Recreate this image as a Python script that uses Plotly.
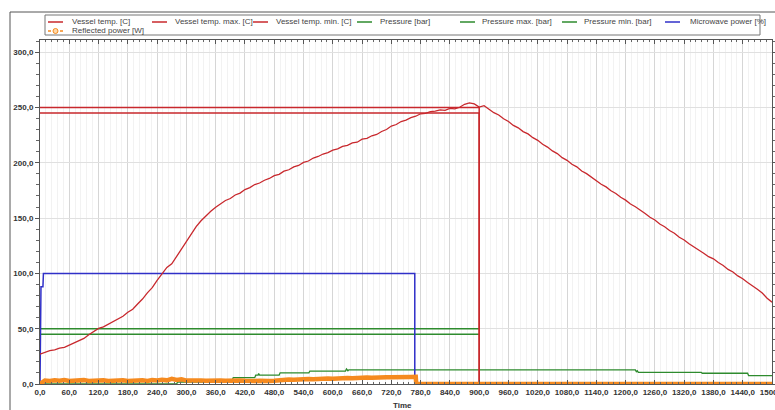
import plotly.graph_objects as go

# ---------------- data ----------------
time_step = 10
temp_t = list(range(0, 1501, time_step))
vessel_temp = [
    27.0, 28.8, 30.2, 30.9, 32.4, 33.1, 35.2, 36.8, 39.4, 41.2,
    44.6, 47.8, 50.3, 51.6, 54.2, 56.1, 59.3, 61.2, 64.8, 67.6,
    72.3, 76.8, 82.4, 87.1, 93.6, 99.2, 105.4, 108.6, 115.3, 121.7,
    129.4, 135.8, 142.2, 147.6, 152.3, 156.2, 159.8, 162.6, 165.9, 167.7,
    170.9, 172.6, 175.8, 177.6, 180.3, 181.7, 184.2, 185.8, 188.3, 189.6,
    192.4, 193.7, 196.3, 197.6, 200.4, 201.6, 204.3, 205.7, 207.9, 209.2,
    211.4, 212.6, 214.8, 215.7, 217.9, 218.6, 221.3, 222.1, 224.4, 225.6,
    228.3, 230.1, 233.2, 234.6, 237.3, 238.5, 240.8, 242.1, 244.3, 244.7,
    246.2, 246.6, 247.8, 247.4, 249.1, 248.8, 250.2, 252.9, 254.1, 253.2,
    250.3, 251.6, 248.1, 245.3, 243.2, 239.8, 237.3, 233.8, 231.6, 228.2,
    226.1, 222.7, 220.3, 216.8, 214.2, 210.7, 208.3, 204.6, 202.2, 198.7,
    196.3, 192.6, 190.2, 186.8, 184.1, 180.6, 178.2, 174.7, 172.3, 168.8,
    166.2, 162.7, 160.3, 156.8, 154.1, 150.7, 148.3, 144.6, 142.2, 138.8,
    136.3, 132.6, 130.2, 126.8, 124.1, 120.7, 118.2, 115.1, 113.2, 109.8,
    107.2, 103.6, 101.3, 97.7, 95.2, 91.8, 89.1, 85.7, 82.3, 77.6,
    74.0,
]

limit_t = [0, 900, 900, 1500]
temp_max = [250, 250, 0, 0]
temp_min = [245, 245, 0, 0]

plim_t = [0, 900, None, 900, 1500]
pressure_max = [50, 50, None, 0, 0]
pressure_min = [45, 45, None, 0, 0]

pressure_t = [0, 280, 282, 340, 342, 394, 396, 440, 442, 447, 448, 450, 490, 492,
              551, 553, 626, 628, 631, 633, 1220, 1222, 1224, 1226, 1355, 1357,
              1450, 1452, 1500]
pressure = [0, 0, 1.8, 1.8, 3.6, 3.6, 5.7, 5.7, 8.0, 8.0, 9.5, 8.0, 8.0, 10.1,
            10.1, 11.7, 11.7, 13.6, 12.0, 12.8, 12.8, 11.2, 12.0, 10.6, 10.6, 9.7,
            9.7, 7.6, 7.6]

mw_t = [0, 2, 6, 7, 768, 768, 1500]
microwave = [0, 88, 88, 100, 100, 0, 0]

refl_t = list(range(0, 771, time_step)) + [771, 1500]
reflected = [
    0, 3.2, 2.8, 3.4, 2.9, 3.6, 2.8, 3.3, 3.0, 3.5,
    2.8, 3.2, 2.9, 3.4, 2.8, 3.2, 3.0, 3.4, 2.8, 3.2,
    3.0, 3.3, 2.8, 3.5, 3.1, 3.8, 3.3, 4.6, 3.6, 4.2,
    3.1, 3.4, 2.8, 3.2, 3.0, 3.3, 2.8, 3.2, 3.0, 3.3,
    2.8, 3.2, 2.9, 3.3, 2.7, 3.0, 2.4, 2.8, 2.9, 3.6,
    3.5, 4.0, 3.8, 4.3, 4.1, 4.5, 4.3, 4.8, 4.5, 4.9,
    4.8, 5.2, 5.0, 5.4, 5.2, 5.6, 5.4, 5.8, 5.6, 6.0,
    5.8, 6.2, 6.0, 6.3, 6.1, 6.5, 6.3, 6.4,
    0, 0,
]

x_ticks = list(range(0, 1501, 60))
x_labels = [f"{v},0" for v in x_ticks]
y_ticks = list(range(0, 301, 50))
y_labels = [f"{v},0" for v in y_ticks]

legend_names = ["Vessel temp. [C]", "Vessel temp. max. [C]", "Vessel temp. min. [C]",
                "Pressure [bar]", "Pressure max. [bar]", "Pressure min. [bar]",
                "Microwave power [%]", "Reflected power [W]"]

RED = "#c8282d"
GREEN = "#2e8b2e"
BLUE = "#3030c8"
ORANGE = "#f58a1f"
legend_colors = [RED, RED, RED, GREEN, GREEN, GREEN, BLUE, ORANGE]

# ---------------- layout geometry ----------------
W, H = 775, 410
L, R, T, B = 40, 3, 40, 26
PW, PH = W - L - R, H - T - B


def px(xp):
    return (xp - L) / PW


def py(yp):
    return (H - B - yp) / PH


fig = go.Figure()

# pressure family
fig.add_trace(go.Scatter(x=pressure_t, y=pressure, mode="lines",
                         line=dict(color=GREEN, width=1.3), name=legend_names[3]))
fig.add_trace(go.Scatter(x=plim_t, y=pressure_max, mode="lines",
                         line=dict(color=GREEN, width=1.5), name=legend_names[4]))
fig.add_trace(go.Scatter(x=plim_t, y=pressure_min, mode="lines",
                         line=dict(color=GREEN, width=1.5), name=legend_names[5]))
# microwave power
fig.add_trace(go.Scatter(x=mw_t, y=microwave, mode="lines",
                         line=dict(color=BLUE, width=1.5), name=legend_names[6]))
# temperature family
fig.add_trace(go.Scatter(x=limit_t, y=temp_max, mode="lines",
                         line=dict(color=RED, width=1.5), name=legend_names[1]))
fig.add_trace(go.Scatter(x=limit_t, y=temp_min, mode="lines",
                         line=dict(color=RED, width=1.5), name=legend_names[2]))
fig.add_trace(go.Scatter(x=temp_t, y=vessel_temp, mode="lines",
                         line=dict(color=RED, width=1.3), name=legend_names[0]))
# reflected power
fig.add_trace(go.Scatter(x=refl_t, y=reflected, mode="lines",
                         line=dict(color=ORANGE, width=4.5), name=legend_names[7]))

tickfont = dict(family="Liberation Sans", size=8, color="#333333", weight="bold")

fig.update_layout(
    width=W, height=H,
    margin=dict(l=L, r=R, t=T, b=B, pad=0, autoexpand=False),
    paper_bgcolor="white", plot_bgcolor="white",
    showlegend=False,
    xaxis=dict(range=[0, 1500], tickmode="array", tickvals=x_ticks, ticktext=x_labels,
               ticks="inside", ticklen=4, tickcolor="#555", tickwidth=1,
               showline=True, linecolor="#555", linewidth=1, mirror="ticks",
               showgrid=True, gridcolor="#d6d6d6", gridwidth=1, zeroline=False,
               tickfont=tickfont, ticklabeloverflow="allow", automargin=False,
               minor=dict(dtick=12, ticks="inside", ticklen=2, tickcolor="#666",
                          showgrid=True, gridcolor="#f2f2f2")),
    yaxis=dict(range=[0, 311], tickmode="array", tickvals=y_ticks, ticktext=y_labels,
               ticks="outside", ticklen=4, tickcolor="#555", tickwidth=1,
               showline=True, linecolor="#555", linewidth=1, mirror="ticks",
               showgrid=True, gridcolor="#e0e0e0", zeroline=False,
               tickfont=tickfont, automargin=False,
               minor=dict(dtick=10, ticks="outside", ticklen=3, tickcolor="#666",
                          showgrid=False)),
)

shapes = []
annotations = []
# outer frame (top and left borders of the chart panel)
shapes.append(dict(type="line", xref="paper", yref="paper", x0=px(10), x1=px(776),
                   y0=py(12), y1=py(12), line=dict(color="#555", width=1)))
shapes.append(dict(type="line", xref="paper", yref="paper", x0=px(10), x1=px(10),
                   y0=py(12), y1=py(412), line=dict(color="#555", width=1)))
# legend box
shapes.append(dict(type="rect", xref="paper", yref="paper", x0=px(45), x1=px(760),
                   y0=py(15), y1=py(35), line=dict(color="#777", width=1),
                   fillcolor="white"))

legend_pos = [(48, 70, 22), (152, 173, 22), (253, 274, 22), (357, 378, 22),
              (460, 480, 22), (562, 582, 22), (665, 688, 22), (48, 70, 31)]
for name, col, (lx, tx, ly) in zip(legend_names, legend_colors, legend_pos):
    if col == ORANGE:
        shapes.append(dict(type="line", xref="paper", yref="paper", x0=px(lx), x1=px(lx + 15),
                           y0=py(ly), y1=py(ly), line=dict(color=col, width=1.5, dash="dot")))
        shapes.append(dict(type="circle", xref="paper", yref="paper",
                           x0=px(lx + 5), x1=px(lx + 10), y0=py(ly - 2.5), y1=py(ly + 2.5),
                           line=dict(color=col, width=1), fillcolor="#ffd9a8"))
    else:
        shapes.append(dict(type="line", xref="paper", yref="paper", x0=px(lx), x1=px(lx + 15),
                           y0=py(ly), y1=py(ly), line=dict(color=col, width=1.5)))
    annotations.append(dict(text=name, xref="paper", yref="paper", x=px(tx), y=py(ly),
                            xanchor="left", yanchor="middle", showarrow=False,
                            font=dict(family="Liberation Sans", size=8, color="#444")))

annotations.append(dict(text="Time", xref="paper", yref="paper", x=px(402), y=py(399),
                        xanchor="center", yanchor="top", showarrow=False,
                        font=dict(family="Liberation Sans", size=8, color="#333", weight="bold")))

fig.update_layout(shapes=shapes, annotations=annotations)

fig.write_html("out.html")
